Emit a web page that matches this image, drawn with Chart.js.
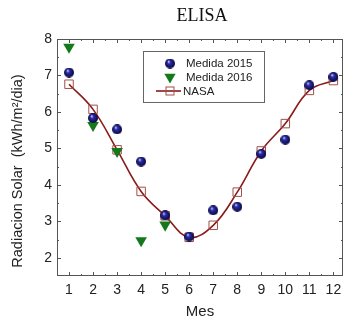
<!DOCTYPE html>
<html>
<head>
<meta charset="utf-8">
<script src="https://cdn.jsdelivr.net/npm/chart.js@4/dist/chart.umd.min.js"></script>
<style>
  html, body { margin: 0; padding: 0; background: #fff; }
</style>
</head>
<body>
<canvas id="solarChart" width="350" height="322"></canvas>
<script>
// values
const months = [1, 2, 3, 4, 5, 6, 7, 8, 9, 10, 11, 12];
const medida2015 = [7.08, 5.83, 5.52, 4.64, 3.16, 2.58, 3.30, 3.40, 4.85, 5.24, 6.73, 6.96];
const medida2016 = [7.78, 5.63, 4.92, 2.47, 2.90];
const nasa = [6.76, 6.07, 4.96, 3.82, 3.15, 2.56, 2.89, 3.80, 4.93, 5.68, 6.59, 6.86];
const xTicks = [1, 2, 3, 4, 5, 6, 7, 8, 9, 10, 11, 12];
const yTicks = [2, 3, 4, 5, 6, 7, 8];

const green = "#14791a";
const lineColor = "#8b1a1a";
const squareColor = "#a0504a";
const frameColor = "#555";

// little shaded ball used for the 2015 points
function makeBall(d) {
  const c = document.createElement("canvas");
  c.width = d;
  c.height = d;
  const g = c.getContext("2d");
  const r = d / 2;
  const grad = g.createRadialGradient(r * 0.7, r * 0.6, r * 0.05, r, r, r);
  grad.addColorStop(0, "#d8d8ff");
  grad.addColorStop(0.3, "#2c2cb0");
  grad.addColorStop(1, "#060638");
  g.fillStyle = grad;
  g.beginPath();
  g.arc(r, r, r, 0, Math.PI * 2);
  g.fill();
  return c;
}
const ball = makeBall(10);

const toPoints = (vals) => vals.map((v, i) => ({ x: months[i], y: v }));

// box, inward ticks, title and legend like the original figure
const figureDecor = {
  id: "figureDecor",
  beforeDatasetsDraw(chart) {
    const { ctx, chartArea: a, scales } = chart;
    ctx.save();
    ctx.strokeStyle = frameColor;
    ctx.lineWidth = 1;
    ctx.strokeRect(a.left + 0.5, a.top + 0.5, a.right - a.left - 1, a.bottom - a.top - 1);
    ctx.beginPath();
    for (let v = 0.5; v <= 12.5; v += 0.5) {
      const x = Math.round(scales.x.getPixelForValue(v)) + 0.5;
      if (x < a.left + 1 || x > a.right - 1) continue;
      const len = Number.isInteger(v) ? 4 : 2;
      ctx.moveTo(x, a.bottom); ctx.lineTo(x, a.bottom - len);
      ctx.moveTo(x, a.top); ctx.lineTo(x, a.top + len);
    }
    for (let v = 1.5; v <= 8; v += 0.5) {
      const y = Math.round(scales.y.getPixelForValue(v)) + 0.5;
      if (y < a.top + 1 || y > a.bottom - 1) continue;
      const len = Number.isInteger(v) ? 4 : 2;
      ctx.moveTo(a.left, y); ctx.lineTo(a.left + len, y);
      ctx.moveTo(a.right, y); ctx.lineTo(a.right - len, y);
    }
    ctx.stroke();
    ctx.restore();
  },
  afterDraw(chart) {
    const { ctx, chartArea: a } = chart;
    ctx.save();
    // title
    ctx.fillStyle = "#111";
    ctx.font = '18px "Liberation Serif"';
    ctx.textAlign = "center";
    ctx.textBaseline = "middle";
    ctx.fillText("ELISA", (a.left + a.right) / 2 + 2, 16);

    // y axis title
    ctx.save();
    ctx.translate(18, 171);
    ctx.rotate(-Math.PI / 2);
    ctx.font = '14.5px "Liberation Sans"';
    ctx.fillStyle = "#222";
    ctx.fillText("Radiacion Solar  (kWh/m\u00b2/dia)", 0, 0);
    ctx.restore();

    // legend
    const ds = chart.data.datasets;
    ctx.strokeStyle = "#666";
    ctx.lineWidth = 1;
    ctx.strokeRect(143.5, 51.5, 121, 51);
    ctx.font = '11.5px "Liberation Sans"';
    ctx.fillStyle = "#222";
    ctx.textAlign = "left";
    ctx.drawImage(ball, 170 - 5, 63.5 - 5);
    ctx.fillText(ds[0].label, 186, 64);
    ctx.fillStyle = green;
    Chart.helpers.drawPoint(ctx, { pointStyle: "triangle", radius: 6.5, rotation: 180, borderWidth: 0 }, 170, 77);
    ctx.fillStyle = "#222";
    ctx.fillText(ds[1].label, 186, 78);
    ctx.strokeStyle = lineColor;
    ctx.lineWidth = 1.6;
    ctx.beginPath();
    ctx.moveTo(156, 91); ctx.lineTo(181, 91);
    ctx.stroke();
    ctx.strokeStyle = squareColor;
    ctx.lineWidth = 1;
    ctx.strokeRect(166, 87, 8, 8);
    ctx.fillStyle = "#222";
    ctx.fillText(ds[2].label, 183, 92);
    ctx.restore();
  }
};

const ctx = document.getElementById("solarChart").getContext("2d");
new Chart(ctx, {
  type: "line",
  data: {
    datasets: [
      {
        label: "Medida 2015",
        data: toPoints(medida2015),
        showLine: false,
        pointStyle: ball,
        pointRadius: 5
      },
      {
        label: "Medida 2016",
        data: toPoints(medida2016),
        showLine: false,
        pointStyle: "triangle",
        rotation: 180,
        pointRadius: 6.7,
        backgroundColor: green,
        borderColor: green,
        pointBorderWidth: 0
      },
      {
        label: "NASA",
        data: toPoints(nasa),
        borderColor: lineColor,
        borderWidth: 1.6,
        tension: 0.4,
        pointStyle: "rect",
        pointRadius: 6,
        pointBackgroundColor: "rgba(255,255,255,0)",
        pointBorderColor: squareColor,
        pointBorderWidth: 1
      }
    ]
  },
  options: {
    responsive: false,
    animation: false,
    devicePixelRatio: 1,
    layout: { padding: { top: 39, right: 2, left: 0, bottom: 0 } },
    plugins: {
      legend: { display: false },
      title: { display: false },
      tooltip: { enabled: false }
    },
    scales: {
      x: {
        type: "linear",
        min: 0.5,
        max: 12.4,
        afterBuildTicks: (s) => { s.ticks = xTicks.map((v) => ({ value: v })); },
        afterFit: (s) => { s.height = 46; },
        grid: { display: false, drawTicks: false },
        border: { display: false },
        ticks: { color: "#222", padding: 6, maxRotation: 0, autoSkip: false, font: { family: "Liberation Sans", size: 14 } },
        title: { display: true, text: "Mes", color: "#222", padding: { top: 0, bottom: 1 }, font: { family: "Liberation Sans", size: 15 } }
      },
      y: {
        min: 1.5,
        max: 8,
        afterBuildTicks: (s) => { s.ticks = yTicks.map((v) => ({ value: v })); },
        afterFit: (s) => { s.width = 57; },
        grid: { display: false, drawTicks: false },
        border: { display: false },
        ticks: { color: "#222", padding: 5, font: { family: "Liberation Sans", size: 14 } }
      }
    }
  },
  plugins: [figureDecor]
});
</script>
</body>
</html>
